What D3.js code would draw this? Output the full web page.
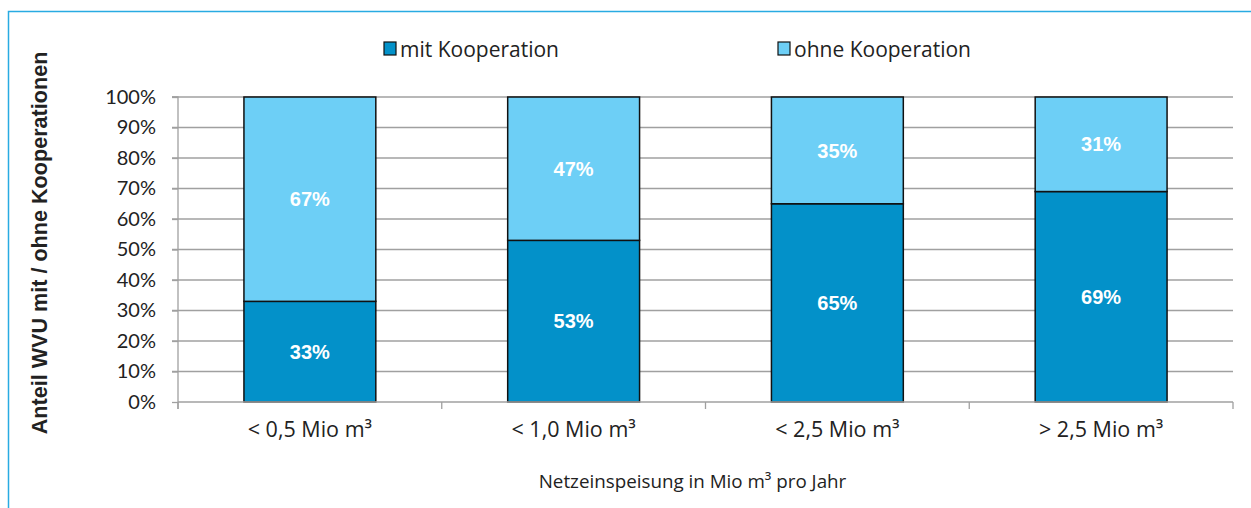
<!DOCTYPE html>
<html>
<head>
<meta charset="utf-8">
<script src="https://cdn.jsdelivr.net/npm/d3@7"></script>
<style>
  body { margin: 0; background: #fff; }
  svg { display: block; }
</style>
</head>
<body>
<div id="chart"></div>
<script>
// data
const categories = ["< 0,5 Mio m³", "< 1,0 Mio m³", "< 2,5 Mio m³", "> 2,5 Mio m³"];
const mitKooperation = [33, 53, 65, 69];
const ohneKooperation = [67, 47, 35, 31];
const seriesNames = ["mit Kooperation", "ohne Kooperation"];
const yTicks = [0, 10, 20, 30, 40, 50, 60, 70, 80, 90, 100];

const W = 1251, H = 508;
const colors = ["#0391c9", "#6dcff6"];

let svg = d3.select("#chart").append("svg")
    .attr("width", W).attr("height", H);

// light blue frame
svg.append("rect")
    .attr("x", 8.5).attr("y", 11.5)
    .attr("width", 1400).attr("height", 600)
    .attr("fill", "none")
    .attr("stroke", "#29abe2")
    .attr("stroke-width", 1.5);

const plotLeft = 178, plotRight = 1233, plotTop = 97, plotBottom = 402;

let x = d3.scaleBand().domain(categories).range([plotLeft, plotRight]).paddingInner(0.5).paddingOuter(0.25);
let y = d3.scaleLinear().domain([0, 100]).range([plotBottom, plotTop]);

// gridlines
svg.append("g")
    .selectAll("line")
    .data(yTicks.filter(d => d > 0))
    .enter()
    .append("line")
    .attr("x1", plotLeft - 6).attr("x2", plotRight)
    .attr("y1", d => y(d)).attr("y2", d => y(d))
    .attr("stroke", "#a0a0a0")
    .attr("stroke-width", 1.3);

// y axis
let yAxis = svg.append("g")
    .attr("transform", `translate(${plotLeft},0)`)
    .call(d3.axisLeft(y).tickValues(yTicks).tickFormat(d => d + "%").tickSize(6).tickPadding(16));
yAxis.select(".domain").attr("stroke", "#a0a0a0").attr("stroke-width", 1.3)
    .attr("d", `M-6,${plotTop}H0V${plotBottom + 7}`);
yAxis.selectAll(".tick line").attr("stroke", "#a0a0a0").attr("stroke-width", 1.3);
yAxis.selectAll("text")
    .attr("font-family", "Lato, 'Open Sans', sans-serif")
    .attr("font-size", 20)
    .attr("fill", "#222");

// stacked bars
const stackData = categories.map((c, i) => ({ cat: c, mit: mitKooperation[i], ohne: ohneKooperation[i] }));
const stack = d3.stack().keys(["mit", "ohne"])(stackData);

let groups = svg.selectAll("g.series")
    .data(stack)
    .enter()
    .append("g")
    .attr("class", "series")
    .attr("fill", (d, i) => colors[i]);

groups.selectAll("rect")
    .data(d => d)
    .enter()
    .append("rect")
    .attr("x", d => x(d.data.cat))
    .attr("y", d => y(d[1]))
    .attr("width", x.bandwidth())
    .attr("height", d => y(d[0]) - y(d[1]))
    .attr("stroke", "#111")
    .attr("stroke-width", 1.5);

groups.selectAll("text")
    .data(d => d)
    .enter()
    .append("text")
    .attr("x", d => x(d.data.cat) + x.bandwidth() / 2)
    .attr("y", d => (y(d[0]) + y(d[1])) / 2)
    .attr("dy", "0.36em")
    .attr("text-anchor", "middle")
    .attr("font-family", "'Liberation Sans', Arial, sans-serif")
    .attr("font-weight", "bold")
    .attr("font-size", 20)
    .attr("fill", "#fff")
    .text(d => Math.round(d[1] - d[0]) + "%");

// x axis
let xAxis = svg.append("g")
    .attr("transform", `translate(0,${plotBottom})`)
    .call(d3.axisBottom(x).tickSize(0).tickPadding(20));
xAxis.select(".domain").remove();
xAxis.append("line")
    .attr("x1", plotLeft).attr("x2", plotRight)
    .attr("stroke", "#a0a0a0").attr("stroke-width", 1.3);
xAxis.selectAll(".sep")
    .data(d3.range(categories.length + 1))
    .enter()
    .append("line")
    .attr("class", "sep")
    .attr("x1", i => plotLeft + i * x.step()).attr("x2", i => plotLeft + i * x.step())
    .attr("y1", 0).attr("y2", 7)
    .attr("stroke", "#a0a0a0").attr("stroke-width", 1.3);
xAxis.selectAll(".tick text")
    .attr("font-family", "'Open Sans', Lato, sans-serif")
    .attr("font-size", 21.5)
    .attr("fill", "#222");

// axis titles
svg.append("text")
    .attr("x", (plotLeft + plotRight) / 2 - 13)
    .attr("y", 488)
    .attr("text-anchor", "middle")
    .attr("font-family", "'Open Sans', Lato, sans-serif")
    .attr("font-size", 18.8)
    .attr("fill", "#222")
    .text("Netzeinspeisung in Mio m³ pro Jahr");

svg.append("text")
    .attr("transform", "translate(47,243) rotate(-90)")
    .attr("text-anchor", "middle")
    .attr("font-family", "'Liberation Sans', Arial, sans-serif")
    .attr("font-weight", "bold")
    .attr("font-size", 21.6)
    .attr("fill", "#222")
    .text("Anteil WVU mit / ohne Kooperationen");

// legend
const legendX = [384, 778];
let legend = svg.selectAll("g.legend")
    .data(seriesNames)
    .enter()
    .append("g")
    .attr("class", "legend")
    .attr("transform", (d, i) => `translate(${legendX[i]},42)`);
legend.append("rect")
    .attr("width", 12).attr("height", 13)
    .attr("fill", (d, i) => colors[i])
    .attr("stroke", "#111").attr("stroke-width", 1.2);
legend.append("text")
    .attr("x", 16).attr("y", 7)
    .attr("dy", "0.36em")
    .attr("font-family", "'Open Sans', Lato, sans-serif")
    .attr("font-size", 21)
    .attr("fill", "#222")
    .text(d => d);
</script>
</body>
</html>
